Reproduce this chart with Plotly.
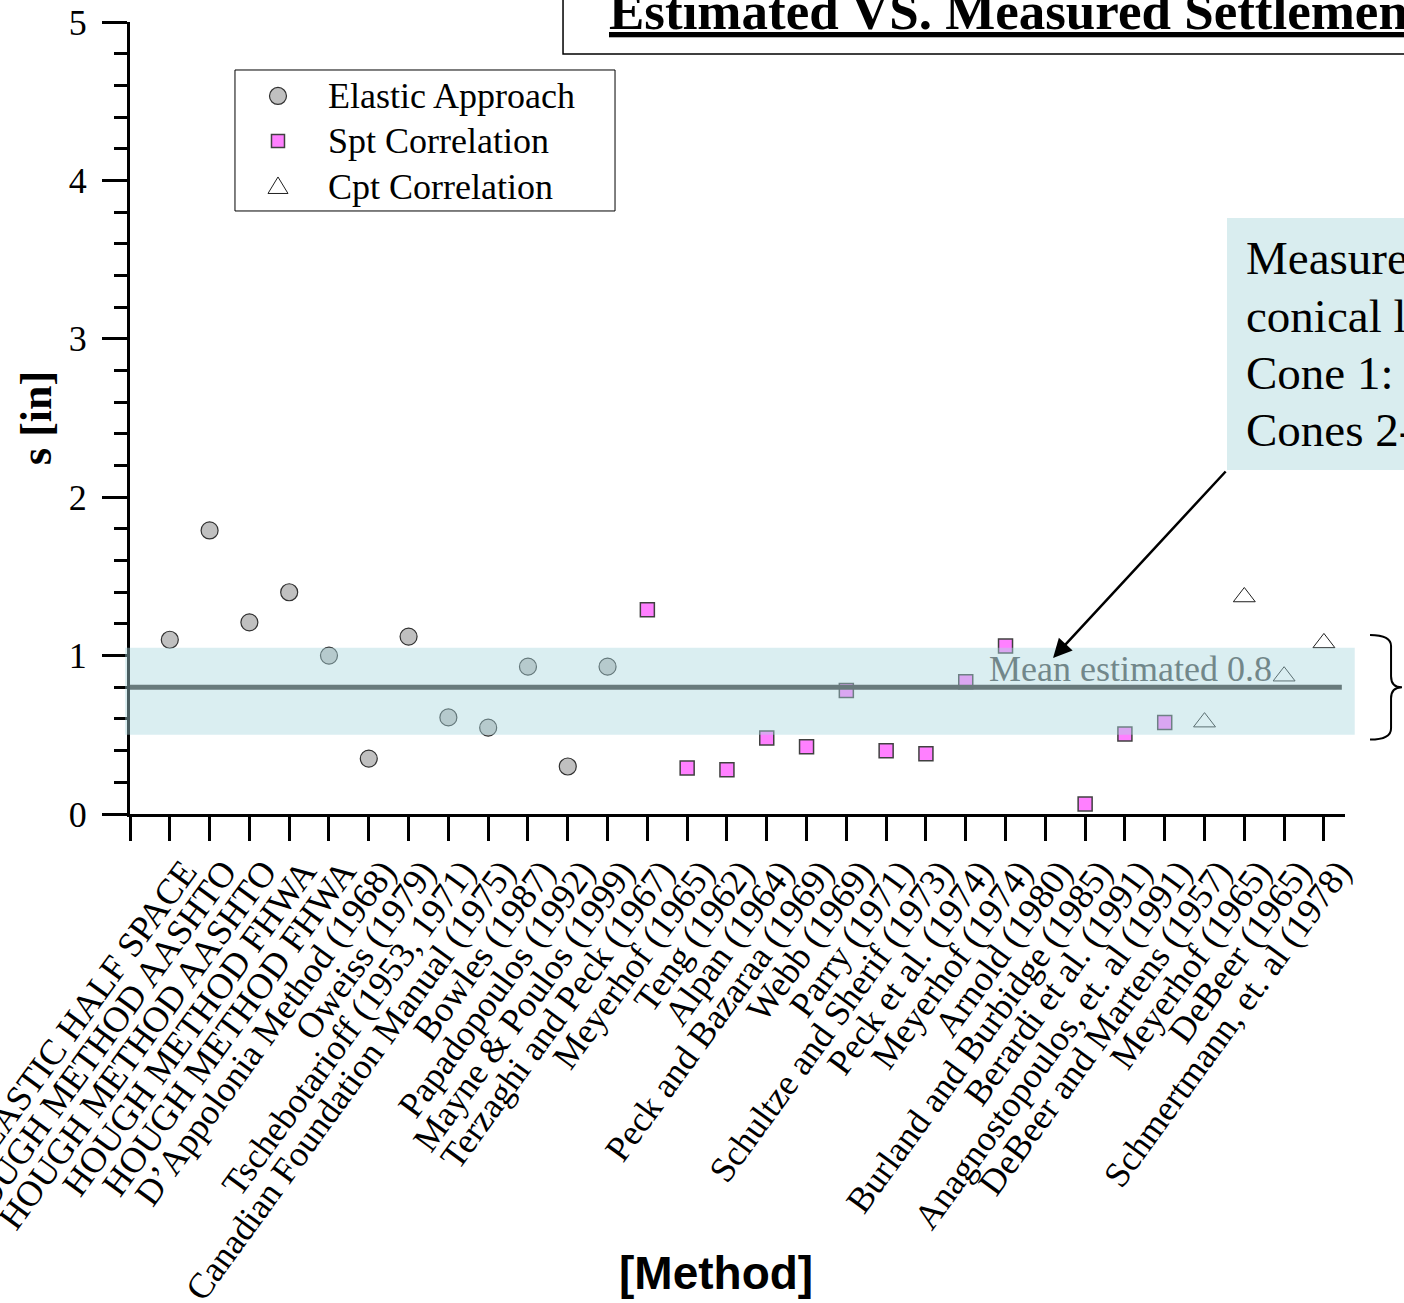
import plotly.graph_objects as go

# Settlement estimates by method
methods = [
    "ELASTIC HALF SPACE", "HOUGH METHOD AASHTO", "HOUGH METHOD AASHTO",
    "HOUGH METHOD FHWA", "HOUGH METHOD FHWA", "D’Appolonia Method (1968)",
    "Oweiss (1979)", "Tschebotarioff (1953, 1971)", "Canadian Foundation Manual (1975)",
    "Bowles (1987)", "Papadopoulos (1992)", "Mayne & Poulos (1999)",
    "Terzaghi and Peck (1967)", "Meyerhof (1965)", "Teng (1962)", "Alpan (1964)",
    "Peck and Bazaraa (1969)", "Webb (1969)", "Parry (1971)",
    "Schultze and Sherif (1973)", "Peck et al. (1974)", "Meyerhof (1974)",
    "Arnold (1980)", "Burland and Burbidge (1985)", "Berardi et al. (1991)",
    "Anagnostopoulos, et. al (1991)", "DeBeer and Martens (1957)", "Meyerhof (1965)",
    "DeBeer (1965)", "Schmertmann, et. al (1978)",
]

elastic_x = [1, 2, 3, 4, 5, 6, 7, 8, 9, 10, 11, 12]
elastic_s = [1.10, 1.79, 1.21, 1.40, 1.00, 0.35, 1.12, 0.61, 0.545, 0.93, 0.30, 0.93]

spt_x = [13, 14, 15, 16, 17, 18, 19, 20, 21, 22, 24, 25, 26]
spt_s = [1.29, 0.29, 0.28, 0.48, 0.425, 0.78, 0.40, 0.38, 0.835, 1.06, 0.063, 0.505, 0.577]

cpt_x = [27, 28, 29, 30]
cpt_s = [0.58, 1.37, 0.87, 1.08]

series_names = ["Elastic Approach", "Spt Correlation", "Cpt Correlation"]

note_lines = ["Measured settlement", "conical loading",
              "Cone 1:\u00a0\u00a0\u00a00.50 in", "Cones 2-4: 1.05 in"]

mean_est = 0.8
measured_band = [0.5, 1.05]
brace_range = [0.47, 1.13]

Y_MAX = 5
X_MAX = 30.53

SERIF = "Liberation Serif, Times New Roman, serif"
SANS = "Liberation Sans, Arial, sans-serif"

CIRCLE_FILL, CIRCLE_LINE = "#c0c0c0", "#303030"
SQUARE_FILL, SQUARE_LINE = "#ff80ff", "#404040"
TRI_FILL, TRI_LINE = "white", "#202020"

fig = go.Figure()

fig.add_trace(go.Scatter(
    x=elastic_x, y=elastic_s, mode="markers", name=series_names[0], showlegend=False,
    marker=dict(symbol="circle", size=17, color=CIRCLE_FILL,
                line=dict(color=CIRCLE_LINE, width=1.2)),
))
fig.add_trace(go.Scatter(
    x=spt_x, y=spt_s, mode="markers", name=series_names[1], showlegend=False,
    marker=dict(symbol="square", size=14, color=SQUARE_FILL,
                line=dict(color=SQUARE_LINE, width=1.5)),
))
fig.add_trace(go.Scatter(
    x=cpt_x, y=cpt_s, mode="markers", name=series_names[2], showlegend=False,
    marker=dict(symbol="triangle-up", size=19, color=TRI_FILL,
                line=dict(color=TRI_LINE, width=1)),
))

# plot area size in pixels, used to place the legend keys in paper units
PW, PH = 1215, 792

shapes = []
# measured settlement band (semi-transparent, over the markers)
shapes.append(dict(
    type="rect", xref="paper", yref="paper", layer="above",
    x0=-0.004, x1=1.008,
    y0=measured_band[0] / Y_MAX, y1=measured_band[1] / Y_MAX,
    fillcolor="rgba(170,215,222,0.43)", line=dict(width=0),
))
# mean of estimates
shapes.append(dict(
    type="line", xref="x", yref="y", layer="above",
    x0=0, x1=30.45, y0=mean_est, y1=mean_est,
    line=dict(color="#687a7c", width=5),
))
# curly brace beside the measured range
bx0, bxs, bxt = 1.0206, 1.0379, 1.0469
yt, yb = brace_range[1] / Y_MAX, brace_range[0] / Y_MAX
ym = (yt + yb) / 2
d = 0.07 / Y_MAX
brace_path = (
    f"M {bx0},{yt} Q {bxs},{yt} {bxs},{yt - d} L {bxs},{ym + d} "
    f"Q {bxs},{ym} {bxt},{ym} Q {bxs},{ym} {bxs},{ym - d} "
    f"L {bxs},{yb + d} Q {bxs},{yb} {bx0},{yb}"
)
shapes.append(dict(type="path", xref="paper", yref="paper", path=brace_path,
                    line=dict(color="black", width=2)))
# title frame
shapes.append(dict(type="rect", xref="paper", yref="paper",
                   x0=0.3564, x1=1.2, y0=0.9596, y1=1.05,
                   fillcolor="white", line=dict(color="black", width=1.5)))
# note frame
shapes.append(dict(type="rect", xref="paper", yref="paper",
                   x0=0.9029, x1=1.2, y0=0.4343, y1=0.7525,
                   fillcolor="#d9edef", line=dict(width=0)))

# legend frame and keys
leg_x0, leg_x1, leg_y0, leg_y1 = 0.0864, 0.3992, 0.7614, 0.9394
row_y = [0.9066, 0.8497, 0.7917]
key_x = 0.1218
text_x = 0.1615
shapes.append(dict(type="rect", xref="paper", yref="paper",
                   x0=leg_x0, x1=leg_x1, y0=leg_y0, y1=leg_y1,
                   fillcolor="white", line=dict(color="black", width=1)))
r = 8.5
shapes.append(dict(type="circle", xref="paper", yref="paper",
                   x0=key_x - r / PW, x1=key_x + r / PW,
                   y0=row_y[0] - r / PH, y1=row_y[0] + r / PH,
                   fillcolor=CIRCLE_FILL, line=dict(color=CIRCLE_LINE, width=1.2)))
h = 6.5
shapes.append(dict(type="rect", xref="paper", yref="paper",
                   x0=key_x - h / PW, x1=key_x + h / PW,
                   y0=row_y[1] - h / PH, y1=row_y[1] + h / PH,
                   fillcolor=SQUARE_FILL, line=dict(color=SQUARE_LINE, width=1.5)))
tw, tup, tdn = 10, 10, 6.5
cy = row_y[2]
tri_path = (f"M {key_x - tw / PW},{cy - tdn / PH} L {key_x + tw / PW},{cy - tdn / PH} "
            f"L {key_x},{cy + tup / PH} Z")
shapes.append(dict(type="path", xref="paper", yref="paper", path=tri_path,
                   fillcolor=TRI_FILL, line=dict(color=TRI_LINE, width=1)))

annotations = [
    dict(text="<u>Estimated VS. Measured Settlement</u>", xref="paper", yref="paper",
         x=0.3922, y=1.0145, xanchor="left", yanchor="middle", showarrow=False,
         font=dict(family=SERIF, size=53, color="black", weight="bold")),
    dict(text=f"Mean estimated {mean_est}", xref="paper", yref="paper",
         x=0.7053, y=0.183, xanchor="left", yanchor="middle", showarrow=False,
         font=dict(family=SERIF, size=36, color="#72878a")),
    dict(text="", xref="paper", yref="paper", x=0.7597, y=0.197,
         showarrow=True, ax=174, ay=-188, arrowhead=2, arrowsize=1.5,
         arrowwidth=2.5, arrowcolor="black", standoff=0),
    dict(text="<b>s [in]</b>", xref="paper", yref="paper", x=-0.0774, y=0.5,
         xanchor="center", yanchor="middle", textangle=-90, showarrow=False,
         font=dict(family=SERIF, size=44, color="black")),
    dict(text="<b>[Method]</b>", xref="paper", yref="paper", x=0.4823, y=-0.5795,
         xanchor="center", yanchor="middle", showarrow=False,
         font=dict(family=SANS, size=46, color="black")),
]
# note text, one line at a time for even spacing
note_y = [0.7020, 0.6288, 0.5568, 0.4848]
for line, y in zip(note_lines, note_y):
    annotations.append(dict(text=line, xref="paper", yref="paper", x=0.9170, y=y,
                            xanchor="left", yanchor="middle", showarrow=False,
                            font=dict(family=SERIF, size=47, color="black")))
for name, y in zip(series_names, row_y):
    annotations.append(dict(text=name, xref="paper", yref="paper", x=text_x, y=y,
                            xanchor="left", yanchor="middle", showarrow=False,
                            font=dict(family=SERIF, size=36, color="black")))

fig.update_layout(
    width=1404, height=1303,
    margin=dict(l=130, r=59, t=22, b=489, autoexpand=False),
    paper_bgcolor="white", plot_bgcolor="white",
    font=dict(family=SERIF, size=36, color="black"),
    shapes=shapes, annotations=annotations, showlegend=False,
)

fig.update_xaxes(
    range=[0, X_MAX], tickmode="array",
    tickvals=list(range(0, len(methods) + 1)), ticktext=[""] + methods,
    tickangle=-54, ticks="outside", ticklen=24, tickwidth=3, tickcolor="black",
    ticklabeloverflow="allow", ticklabelshift=14, ticklabelstandoff=-5,
    showline=True, linewidth=3, linecolor="black", showgrid=False, zeroline=False,
    tickfont=dict(family=SERIF, size=36, color="black"), automargin=False,
)
fig.update_yaxes(
    range=[0, Y_MAX], tickmode="array", tickvals=[0, 1, 2, 3, 4, 5],
    ticks="outside", ticklen=25, tickwidth=3, tickcolor="black",
    ticklabelstandoff=8,
    minor=dict(dtick=0.2, ticks="outside", ticklen=13, tickwidth=3,
               tickcolor="black", showgrid=False),
    showline=True, linewidth=3, linecolor="black", showgrid=False, zeroline=False,
    tickfont=dict(family=SERIF, size=36, color="black"), automargin=False,
)

fig.write_html("out.html")
